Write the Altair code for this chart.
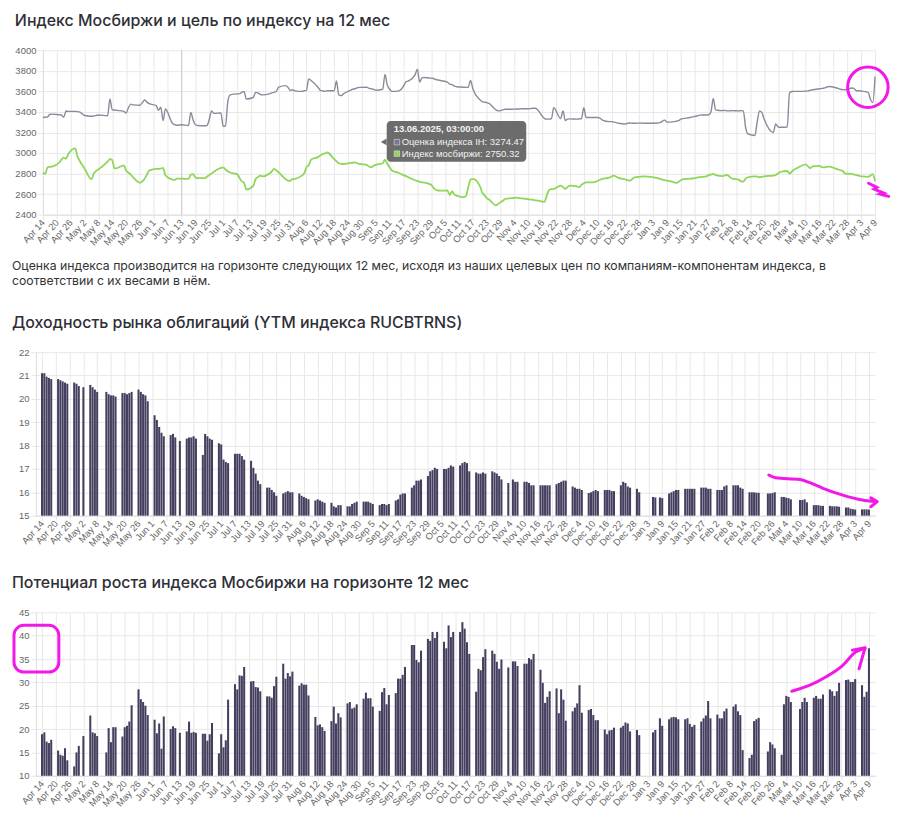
import altair as alt
import pandas as pd

# ---------------- calendar ----------------
START = "2025-04-14"
END = "2026-04-09"
HOLIDAYS = ["2025-05-01", "2025-05-09", "2025-06-12", "2025-11-04", "2025-12-31",
            "2026-01-01", "2026-01-02", "2026-01-07", "2026-02-23", "2026-03-09"]

# ---------------- data (trading days, week by week) ----------------
ih = [
    3345, 3348, 3350, 3375, 3378,  3372, 3370, 3348, 3408, 3405,  3405, 3403, 3398, 3365,
    3358, 3360, 3365, 3370,  3362, 3525, 3420, 3418, 3415,  3405, 3388, 3440, 3475, 3468,
    3465, 3490, 3515, 3495, 3480,  3462, 3415, 3445, 3315, 3428,  3290, 3275, 3270, 3274.47,
    3268, 3395, 3320, 3275, 3268,  3265, 3268, 3330, 3410, 3385,  3390, 3260, 3262, 3500, 3565,
    3575, 3575, 3590, 3600, 3525,  3540, 3590, 3585, 3570, 3565,  3575, 3585, 3590, 3600, 3640,
    3655, 3640, 3608, 3615, 3605,  3600, 3605, 3610, 3720, 3705,  3640, 3610, 3605, 3600, 3605,
    3605, 3700, 3565, 3558, 3575,  3610, 3620, 3625, 3635, 3638,  3640, 3630, 3625, 3620, 3610,
    3620, 3765, 3660, 3620, 3600,  3605, 3620, 3650, 3690, 3700,  3760, 3815, 3690, 3730, 3735,
    3728, 3725, 3715, 3710, 3705,  3690, 3670, 3665, 3650, 3645,  3640, 3638, 3640, 3705, 3625,
    3520, 3500, 3495, 3490, 3482,  3420, 3410, 3412, 3420, 3425,  3425, 3428, 3428, 3430,
    3430, 3432, 3435, 3435, 3420,  3335, 3330, 3330, 3335, 3440,  3335, 3410, 3315, 3330, 3332,
    3330, 3332, 3335, 3440, 3345,  3345, 3345, 3345, 3340, 3320,  3305, 3305, 3300, 3295, 3290,
    3282, 3290, 3292, 3290, 3290,  3292, 3290,  3292, 3295, 3320, 3300,
    3305, 3310, 3315, 3330, 3335,  3345, 3352, 3355, 3360, 3368,  3370, 3372, 3400, 3530, 3420,
    3412, 3415, 3410, 3410, 3412,  3410, 3412, 3410, 3250, 3185,  3170, 3300, 3410, 3395, 3330,
    3200, 3282, 3255, 3250,  3252, 3585, 3598, 3600, 3600,  3602, 3605, 3610, 3615,
    3625, 3628, 3632, 3640, 3647,  3635, 3628, 3620, 3617, 3615,  3632, 3625, 3605, 3605, 3603,
    3590, 3520, 3490, 3745,
]

moex = [
    2812, 2796, 2861, 2865, 2868,  2905, 2935, 2955, 2945, 2990,  3045, 2965, 2920, 2850,
    2745, 2800, 2825, 2840,  2915, 2940, 2930, 2850, 2852,  2880, 2830, 2808, 2790, 2765,
    2710, 2725, 2750, 2790, 2828,  2845, 2845, 2848, 2855, 2782,  2742, 2738, 2750, 2750.32,
    2748, 2790, 2795, 2760, 2755,  2755, 2770, 2785, 2800, 2818,  2855, 2860, 2840, 2822, 2810,
    2795, 2760, 2725, 2712, 2645,  2680, 2745, 2765, 2780, 2772,  2800, 2820, 2845, 2830, 2812,
    2745, 2732, 2730, 2745, 2748,  2780, 2800, 2860, 2880, 2935,  2960, 2975, 2990, 2995, 3005,
    2940, 2920, 2900, 2895, 2893,  2903, 2905, 2909, 2900, 2893,  2885, 2870, 2862, 2875, 2885,
    2900, 2935, 2895, 2860, 2830,  2805, 2795, 2785, 2775, 2765,  2735, 2728, 2720, 2715, 2712,
    2690, 2660, 2640, 2635, 2634,  2635, 2590, 2630, 2595, 2586,  2570, 2580, 2665, 2740, 2748,
    2680, 2618, 2590, 2560, 2547,  2490, 2505, 2521, 2535, 2553,  2560, 2565, 2560, 2558,
    2550, 2547, 2545, 2540, 2537,  2525, 2590, 2640, 2648, 2650,  2683, 2670, 2650, 2670, 2683,
    2675, 2668, 2690, 2705, 2715,  2715, 2718, 2730, 2740, 2748,  2760, 2772, 2780, 2770, 2758,
    2742, 2735, 2731, 2748, 2762,  2770, 2773,  2755, 2748, 2735, 2730,
    2715, 2709, 2720, 2735, 2745,  2750, 2752, 2755, 2760, 2765,  2773, 2785, 2790, 2796, 2785,
    2775, 2782, 2786, 2770, 2752,  2740, 2725, 2722, 2750, 2764,  2772, 2770, 2764, 2768, 2773,
    2780, 2786, 2800, 2815,  2825, 2800, 2820, 2840, 2850,  2890, 2870, 2852, 2870,
    2875, 2862, 2860, 2865, 2867,  2848, 2840, 2832, 2826, 2800,  2796, 2790, 2785, 2780, 2772,
    2768, 2780, 2795, 2725,
]

ytm = [
    21.1, 21.1, 20.95, 20.9, 20.85,  20.85, 20.8, 20.75, 20.7, 20.65,  20.7, 20.65, 20.55, 20.5,
    20.6, 20.5, 20.4, 20.3,  20.3, 20.2, 20.15, 20.15, 20.1,  20.25, 20.25, 20.2, 20.25, 20.3,
    20.4, 20.3, 20.2, 20.15, 19.9,  19.3, 19.1, 18.8, 18.55, 18.4,  18.45, 18.5, 18.35, 18.2,
    18.3, 18.35, 18.35, 18.4, 18.3,  17.6, 18.5, 18.4, 18.3, 18.25,  18.1, 18.05, 17.4, 17.3, 17.25,
    17.65, 17.65, 17.65, 17.55, 17.4,  17.35, 17.05, 16.8, 16.5, 16.35,  16.2, 16.2, 16.1, 16.0, 15.85,
    15.95, 16.0, 16.05, 16.0, 16.0,  15.95, 15.85, 15.8, 15.75, 15.7,  15.65, 15.7, 15.65, 15.6, 15.55,
    15.55, 15.4, 15.35, 15.45, 15.45,  15.4, 15.4, 15.5, 15.55, 15.6,  15.6, 15.6, 15.6, 15.55, 15.5,
    15.45, 15.5, 15.5, 15.45, 15.5,  15.65, 15.7, 15.9, 15.95, 15.95,  16.2, 16.3, 16.5, 16.5, 16.55,
    16.7, 16.9, 16.95, 17.05, 17.0,  17.0, 17.0, 17.05, 17.15, 17.1,  17.15, 17.25, 17.3, 17.25, 16.9,
    16.85, 16.8, 16.8, 16.85, 16.8,  16.9, 16.85, 16.8, 16.7, 16.55,  16.4, 16.55, 16.45, 16.45,
    16.45, 16.45, 16.4, 16.3, 16.3,  16.3, 16.3, 16.3, 16.3, 16.3,  16.35, 16.4, 16.45, 16.5, 16.5,
    16.25, 16.2, 16.15, 16.15, 16.1,  15.97, 16.0, 16.05, 16.1, 16.05,  16.1, 16.1, 16.1, 16.05, 16.05,
    16.3, 16.45, 16.4, 16.25, 16.2,  16.15, 16.0,  15.8, 15.78, 15.78, 15.75,
    15.95, 16.0, 16.05, 16.1, 16.1,  16.15, 16.15, 16.15, 16.15, 16.15,  16.2, 16.2, 16.2, 16.15, 16.15,
    16.1, 16.1, 16.1, 16.25, 16.3,  16.3, 16.3, 16.3, 16.2, 16.15,  16.0, 16.0, 16.0, 15.98, 15.98,
    15.95, 15.95, 15.97, 16.0,  15.8, 15.8, 15.77, 15.75, 15.7,  15.67, 15.67, 15.7, 15.57,
    15.45, 15.45, 15.45, 15.42, 15.42,  15.42, 15.4, 15.4, 15.4, 15.38,  15.35, 15.35, 15.3, 15.28, 15.26,
    15.27, 15.27, 15.27, 15.26,
]

potential = [
    18.9, 19.3, 17.3, 17.0, 17.7,  15.4, 14.5, 14.3, 15.9, 13.3,  12.0, 15.0, 16.4, 18.5,
    22.9, 19.3, 19.1, 18.5,  15.0, 20.2, 17.2, 20.4, 20.4,  18.4, 20.4, 20.7, 21.6, 25.1,
    28.5, 26.4, 25.8, 25.0, 23.0,  22.0, 19.1, 21.2, 15.8, 22.7,  20.0, 20.6, 20.2, 19.2,
    19.5, 21.6, 19.2, 19.4, 19.2,  19.0, 19.0, 17.5, 18.9, 21.3,  14.8, 18.9, 16.1, 17.6, 26.3,
    29.6, 28.5, 31.5, 31.4, 33.3,  30.2, 30.3, 29.0, 28.9, 28.1,  27.0, 27.0, 26.7, 29.2, 31.2,
    34.0, 30.8, 32.0, 31.3, 32.3,  29.3, 29.8, 29.5, 29.5, 27.2,  22.6, 20.8, 21.0, 20.4, 19.6,
    21.7, 24.8, 21.2, 23.4, 22.5,  25.5, 25.8, 24.4, 24.6, 25.3,  26.5, 27.8, 26.6, 26.6, 24.8,
    23.9, 27.9, 28.8, 25.3, 27.3,  27.7, 30.8, 30.8, 31.6, 33.3,  38.0, 38.0, 34.8, 34.3, 36.8,
    39.3, 38.9, 40.8, 39.5, 40.8,  38.7, 37.3, 42.2, 39.7, 40.8,  40.8, 42.9, 41.5, 38.6, 36.1,
    28.0, 32.9, 32.6, 35.4, 37.1,  36.8, 36.1, 34.4, 32.9, 34.9,  33.2, 34.5, 34.5, 33.5,
    34.0, 34.0, 35.2, 34.9, 36.1,  32.7, 29.9, 25.6, 26.9, 28.1,  28.7, 23.4, 28.5, 26.3, 21.8,
    23.8, 24.6, 25.5, 29.4, 23.5,  24.1, 24.3, 23.0, 21.9, 21.9,  19.9, 18.9, 19.7, 19.8, 20.3,
    20.3, 20.7, 21.4, 21.2, 19.5,  19.8, 18.7,  19.3, 19.8, 22.3, 20.7,
    22.1, 22.5, 22.6, 22.5, 22.1,  22.1, 22.3, 21.1, 20.5, 20.9,  21.6, 22.3, 22.9, 26.0, 22.3,
    23.1, 22.3, 22.3, 23.8, 24.4,  24.8, 25.3, 23.8, 23.0, 15.5,  13.8, 14.5, 21.7, 22.1, 22.4,
    15.2, 17.2, 16.7, 15.9,  14.5, 25.3, 27.1, 26.9, 25.8,  24.3, 25.8, 26.7, 25.8,
    26.7, 27.1, 26.5, 26.5, 27.4,  28.5, 28.1, 27.1, 28.1, 29.9,  30.5, 30.6, 30.1, 30.1, 30.7,
    29.4, 26.9, 28.0, 37.3,
]

# texts
TITLE1 = "Индекс Мосбиржи и цель по индексу на 12 мес"
TITLE2 = "Доходность рынка облигаций (YTM индекса RUCBTRNS)"
TITLE3 = "Потенциал роста индекса Мосбиржи на горизонте 12 мес"
CAPTION = ["Оценка индекса производится на горизонте следующих 12 мес, исходя из наших целевых цен по компаниям-компонентам индекса, в",
           "соответствии с их весами в нём."]
TT_TITLE = "13.06.2025, 03:00:00"
TT_LINE1 = "Оценка индекса IH: 3274.47"
TT_LINE2 = "Индекс мосбиржи: 2750.32"
HOVER_DATE = "2025-06-13"

# hand-drawn magenta marks (day offsets from START, values)
circ_day, circ_val = [356.9], [3640]
squig_days = [357.2, 360.8, 359.6, 363.7, 362.2, 365.9]
squig_vals = [2706, 2665, 2649, 2610, 2600, 2578]
arr2_days = [316.4, 319.3, 330.0, 334.3, 340.0, 348.6, 357.1, 362.8]
arr2_vals = [16.74, 16.62, 16.55, 16.41, 16.17, 15.88, 15.67, 15.60]
head2_days = [360.8, 363.6, 360.8]
head2_vals = [15.76, 15.60, 15.38]
arr3_days = [326.4, 334.3, 341.4, 348.5, 354.2, 358.3]
arr3_vals = [28.1, 29.4, 31.2, 33.6, 36.5, 37.3]
head3_days = [352.8, 358.3, 355.7]
head3_vals = [36.9, 37.4, 32.9]

# ---------------- build ----------------
hol = set(HOLIDAYS)
dates = [d for d in pd.bdate_range(START, END) if d.strftime("%Y-%m-%d") not in hol]
assert len(dates) == len(ih) == len(moex) == len(ytm) == len(potential)
df = pd.DataFrame({"date": dates, "ih": ih, "moex": moex, "ytm": ytm, "pot": potential})

t0 = pd.Timestamp(START)
def ann(days, vals):
    return pd.DataFrame({"date": [t0 + pd.Timedelta(days=d) for d in days], "v": vals,
                         "i": list(range(len(days)))})

TICKS = [alt.DateTime(year=d.year, month=d.month, date=d.day)
         for d in pd.date_range(START, END, freq="6D")]

FONT_T = "Inter"
FONT_A = "Liberation Sans"
BAR = "#463e5e"
GRID = "#e8e8e8"
LAB = "#666666"
MAG = "#f218e8"
W = 842      # plot width of the bar charts
SH = 7       # line chart starts 7px further right


def xaxis(ext=36):
    return alt.Axis(values=TICKS, tickCount=200, format="%b %-d", labelAngle=-48, labelFontSize=9.5,
                    labelColor=LAB, labelFont=FONT_A, gridColor=GRID, tickColor=GRID,
                    tickSize=5, domainColor="#dddddd", labelPadding=1, labelOverlap=False,
                    labelFlush=False, minExtent=ext, maxExtent=ext, title=None)


def yaxis(vals, offset=0):
    return alt.Axis(values=list(vals), tickCount=200, format="d", labelFontSize=9.5, labelColor=LAB,
                    labelFont=FONT_A, gridColor=GRID, tickColor=GRID, tickSize=5,
                    domainColor="#dddddd", labelPadding=2, labelOverlap=False, offset=offset,
                    minExtent=24, maxExtent=24, title=None)


def title(text, offset):
    return alt.TitleParams(text, anchor="start", font=FONT_T, fontSize=16, fontWeight=500,
                           color="#2f2f37", offset=offset)


# ---- chart 1 ----
x1 = alt.X("date:T", scale=alt.Scale(domain=[alt.DateTime(year=2025, month=4, date=14),
                                            alt.DateTime(year=2026, month=4, date=9)],
                                    range=[SH, W]),
           axis=xaxis(36))
Y1 = alt.Scale(domain=[2400, 4000])
ax1 = yaxis(range(2400, 4001, 200), -SH)
base1 = alt.Chart(df).encode(x=x1)
grey = base1.mark_line(color="#8c899b", strokeWidth=1.4, interpolate="monotone").encode(
    y=alt.Y("ih:Q", scale=Y1, axis=ax1))
green = base1.mark_line(color="#8fd65b", strokeWidth=1.8, interpolate="monotone").encode(
    y=alt.Y("moex:Q", scale=Y1, axis=ax1))
hover = alt.Chart(pd.DataFrame({"date": [pd.Timestamp(HOVER_DATE)]})).mark_rule(
    color="#cdcdcd", strokeWidth=1).encode(x="date:T")

one = pd.DataFrame({"a": [0]})
tt_box = alt.Chart(one).mark_rect(color="#676767", cornerRadius=4, opacity=0.97).encode(
    x=alt.value(345 + SH), x2=alt.value(485 + SH), y=alt.value(71), y2=alt.value(112))
tt_caret = alt.Chart(one).mark_point(shape="triangle-left", filled=True, color="#676767",
                                     size=45, opacity=0.97).encode(x=alt.value(342 + SH), y=alt.value(92))
tt_t0 = alt.Chart(pd.DataFrame({"t": [TT_TITLE]})).mark_text(
    align="left", baseline="middle", font=FONT_A, fontSize=9.5, fontWeight="bold", color="#f2f2f2"
).encode(text="t:N", x=alt.value(352 + SH), y=alt.value(79.5))
tt_t1 = alt.Chart(pd.DataFrame({"t": [TT_LINE1]})).mark_text(
    align="left", baseline="middle", font=FONT_A, fontSize=9.5, color="#f2f2f2"
).encode(text="t:N", x=alt.value(360 + SH), y=alt.value(92.5))
tt_t2 = alt.Chart(pd.DataFrame({"t": [TT_LINE2]})).mark_text(
    align="left", baseline="middle", font=FONT_A, fontSize=9.5, color="#f2f2f2"
).encode(text="t:N", x=alt.value(360 + SH), y=alt.value(104))
tt_s1 = alt.Chart(one).mark_rect(color="#7a7596", stroke="#eeeeee", strokeWidth=0.5).encode(
    x=alt.value(352.5 + SH), x2=alt.value(358 + SH), y=alt.value(89.5), y2=alt.value(95))
tt_s2 = alt.Chart(one).mark_rect(color="#8fd65b", stroke="#eeeeee", strokeWidth=0.5).encode(
    x=alt.value(352.5 + SH), x2=alt.value(358 + SH), y=alt.value(101), y2=alt.value(106.5))

m_circle = alt.Chart(ann(circ_day, circ_val)).mark_point(
    shape="circle", size=1650, filled=False, color=MAG, strokeWidth=3, opacity=1, clip=False
).encode(x="date:T", y=alt.Y("v:Q", scale=Y1, axis=ax1))
m_squig = alt.Chart(ann(squig_days, squig_vals)).mark_line(
    color=MAG, strokeWidth=3, clip=False, strokeCap="round").encode(
    x="date:T", y=alt.Y("v:Q", scale=Y1, axis=ax1), order="i:Q")

c1 = alt.layer(hover, grey, green, tt_box, tt_caret, tt_s1, tt_s2, tt_t0, tt_t1, tt_t2,
               m_circle, m_squig).properties(width=W, height=165, title=title(TITLE1, 16))

# ---- caption ----
cap1 = alt.Chart(pd.DataFrame({"t": [CAPTION[0]]})).mark_text(
    align="left", baseline="middle", font=FONT_T, fontSize=12.3, color="#333333"
).encode(text="t:N", x=alt.value(-24), y=alt.value(16))
cap2 = alt.Chart(pd.DataFrame({"t": [CAPTION[1]]})).mark_text(
    align="left", baseline="middle", font=FONT_T, fontSize=12.3, color="#333333"
).encode(text="t:N", x=alt.value(-24), y=alt.value(31))
caption = alt.layer(cap1, cap2).properties(width=840, height=65)

# ---- bar charts ----
def xb(ext):
    return alt.X("date:T", scale=alt.Scale(domain=[alt.DateTime(year=2025, month=4, date=13, hours=12),
                                                  alt.DateTime(year=2026, month=4, date=9, hours=12)]),
                 axis=xaxis(ext))
Y2 = alt.Scale(domain=[15, 22], zero=False)
Y3 = alt.Scale(domain=[10, 45], zero=False)
ax2 = yaxis(range(15, 23))
ax3 = yaxis(range(10, 46, 5))

bars2 = alt.Chart(df).mark_bar(color=BAR, width=2.05).encode(
    x=xb(60), y=alt.Y("ytm:Q", scale=Y2, axis=ax2), y2=alt.datum(15))
m_arr2 = alt.Chart(ann(arr2_days, arr2_vals)).mark_line(
    color=MAG, strokeWidth=3, clip=False, interpolate="monotone", strokeCap="round").encode(
    x="date:T", y=alt.Y("v:Q", scale=Y2, axis=ax2), order="i:Q")
m_head2 = alt.Chart(ann(head2_days, head2_vals)).mark_line(
    color=MAG, strokeWidth=3, clip=False, strokeCap="round", strokeJoin="round").encode(
    x="date:T", y=alt.Y("v:Q", scale=Y2, axis=ax2), order="i:Q")
c2 = alt.layer(bars2, m_arr2, m_head2).properties(width=W, height=164, title=title(TITLE2, 16))

bars3 = alt.Chart(df).mark_bar(color=BAR, width=2.05).encode(
    x=xb(36), y=alt.Y("pot:Q", scale=Y3, axis=ax3), y2=alt.datum(10))
m_arr3 = alt.Chart(ann(arr3_days, arr3_vals)).mark_line(
    color=MAG, strokeWidth=3, clip=False, interpolate="monotone", strokeCap="round").encode(
    x="date:T", y=alt.Y("v:Q", scale=Y3, axis=ax3), order="i:Q")
m_head3 = alt.Chart(ann(head3_days, head3_vals)).mark_line(
    color=MAG, strokeWidth=3, clip=False, strokeCap="round", strokeJoin="round").encode(
    x="date:T", y=alt.Y("v:Q", scale=Y3, axis=ax3), order="i:Q")
m_box3 = alt.Chart(one).mark_rect(fillOpacity=0, stroke=MAG, strokeWidth=3, cornerRadius=10).encode(
    x=alt.value(-22), x2=alt.value(23), y=alt.value(13), y2=alt.value(60))
c3 = alt.layer(bars3, m_arr3, m_head3, m_box3).properties(width=W, height=164, title=title(TITLE3, 16))

chart = alt.concat(c1, caption, c2, c3, columns=1, spacing=0).properties(
    padding={"left": 4, "top": 4, "right": 0, "bottom": 0}
).configure_view(strokeWidth=0)

chart.save("out.html", embed_options={"renderer": "svg", "actions": False})
